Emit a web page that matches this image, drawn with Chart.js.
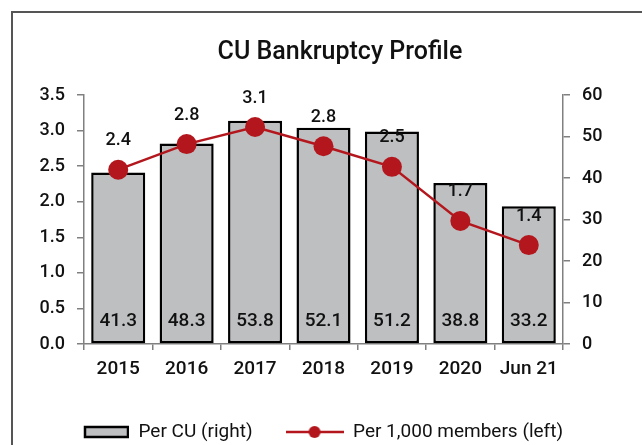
<!DOCTYPE html>
<html>
<head>
<meta charset="utf-8">
<script src="https://cdn.jsdelivr.net/npm/chart.js@4.4.1/dist/chart.umd.min.js"></script>
<style>
  html, body { margin: 0; padding: 0; background: #fff; overflow: hidden; }
  #frame {
    position: absolute; left: 11px; top: 11px; width: 700px; height: 500px;
    border-left: 2px solid #555; border-top: 2px solid #555;
  }
  #chart { position: absolute; left: 0; top: 0; }
</style>
</head>
<body>
<div id="frame"></div>
<canvas id="chart" width="642" height="460"></canvas>
<script>
// Data
const categories = ['2015', '2016', '2017', '2018', '2019', '2020', 'Jun 21'];
const perCU = [41.3, 48.3, 53.8, 52.1, 51.2, 38.8, 33.2];          // right axis
const perThousandMembers = [2.45, 2.81, 3.05, 2.78, 2.49, 1.73, 1.39]; // left axis
const perThousandLabels = ['2.4', '2.8', '3.1', '2.8', '2.5', '1.7', '1.4'];

const RED = '#b3171d';
const BAR_FILL = '#bebfc1';
const AXIS_GREY = '#808080';
const FONT = 'Roboto';

/**
 * Legend swatches drawn on small canvases (box for bars, line + dot for the line)
 */
function barSwatch() {
  const c = document.createElement('canvas');
  c.width = 58; c.height = 14;
  const g = c.getContext('2d');
  g.fillStyle = BAR_FILL;
  g.fillRect(14, 2, 44, 10);
  g.strokeStyle = '#000';
  g.lineWidth = 2.5;
  g.strokeRect(14, 2, 43, 10);
  return c;
}

function lineSwatch() {
  const c = document.createElement('canvas');
  c.width = 58; c.height = 14;
  const g = c.getContext('2d');
  g.strokeStyle = RED;
  g.lineWidth = 2.5;
  g.beginPath(); g.moveTo(0, 7); g.lineTo(58, 7); g.stroke();
  g.fillStyle = RED;
  g.beginPath(); g.arc(29, 7, 6, 0, Math.PI * 2); g.fill();
  return c;
}

// Value labels: bar values near the bar base, line values above each point
const valueLabels = {
  id: 'valueLabels',
  afterDatasetsDraw(chart) {
    const { ctx } = chart;
    ctx.save();
    ctx.fillStyle = '#111';
    ctx.textAlign = 'center';
    ctx.textBaseline = 'middle';

    ctx.font = `500 19px ${FONT}`;
    chart.getDatasetMeta(1).data.forEach((bar, i) => {
      ctx.fillText(perCU[i].toFixed(1), bar.x, bar.base - 22);
    });

    ctx.font = `500 18px ${FONT}`;
    chart.getDatasetMeta(0).data.forEach((pt, i) => {
      ctx.fillText(perThousandLabels[i], pt.x, pt.y - 29);
    });
    ctx.restore();
  }
};

const ctx = document.getElementById('chart').getContext('2d');

new Chart(ctx, {
  data: {
    labels: categories,
    datasets: [
      {
        type: 'line',
        label: 'Per 1,000 members (left)',
        data: perThousandMembers,
        yAxisID: 'y',
        borderColor: RED,
        backgroundColor: RED,
        borderWidth: 2.5,
        pointRadius: 10,
        pointBorderWidth: 0,
        pointBackgroundColor: RED,
        tension: 0,
        order: 0,
      },
      {
        type: 'bar',
        label: 'Per CU (right)',
        data: perCU,
        yAxisID: 'y1',
        backgroundColor: BAR_FILL,
        borderColor: '#000',
        borderWidth: 2.5,
        borderSkipped: false,
        barPercentage: 0.79,
        categoryPercentage: 1,
        order: 1,
      }
    ]
  },
  options: {
    responsive: false,
    animation: false,
    // left padding pushes the (full width) title right, as in the original
    layout: { padding: { left: 38, right: 0, top: 0, bottom: 8.5 } },
    plugins: {
      title: {
        display: true,
        text: 'CU Bankruptcy Profile',
        color: '#111',
        font: { family: FONT, size: 25, weight: '500', lineHeight: 1.2 },
        padding: { top: 37.5, bottom: 27.5 },
      },
      legend: {
        position: 'bottom',
        align: 'start',
        reverse: true,
        labels: {
          usePointStyle: true,
          pointStyleWidth: 58,
          padding: 33,
          color: '#111',
          font: { family: FONT, size: 19 },
          generateLabels(chart) {
            const items = Chart.defaults.plugins.legend.labels.generateLabels(chart);
            items.forEach(item => {
              item.pointStyle = item.datasetIndex === 1 ? barSwatch() : lineSwatch();
            });
            return items;
          }
        }
      },
      tooltip: { enabled: false },
    },
    scales: {
      x: {
        offset: true,
        grid: { drawOnChartArea: false, offset: true, tickLength: 6, color: AXIS_GREY, lineWidth: 1.5 },
        border: { color: AXIS_GREY, width: 1.5 },
        ticks: { color: '#111', padding: 8, font: { family: FONT, size: 19, weight: '500' } },
        afterFit(scale) { scale.height = 45.5; },
      },
      y: {
        position: 'left',
        min: 0,
        max: 3.5,
        grid: { drawOnChartArea: false, tickLength: 7, color: AXIS_GREY, lineWidth: 1.5 },
        border: { color: AXIS_GREY, width: 1.5 },
        ticks: {
          stepSize: 0.5,
          padding: 12,
          color: '#111',
          font: { family: FONT, size: 18, weight: '500' },
          callback: v => v.toFixed(1),
        },
        afterFit(scale) { scale.width = 46; },
      },
      y1: {
        position: 'right',
        min: 0,
        max: 60,
        grid: { drawOnChartArea: false, tickLength: 7, color: AXIS_GREY, lineWidth: 1.5 },
        border: { color: AXIS_GREY, width: 1.5 },
        ticks: {
          stepSize: 10,
          padding: 12,
          color: '#111',
          font: { family: FONT, size: 18, weight: '500' },
        },
        afterFit(scale) { scale.width = 79; },
      }
    }
  },
  plugins: [valueLabels]
});
</script>
</body>
</html>
